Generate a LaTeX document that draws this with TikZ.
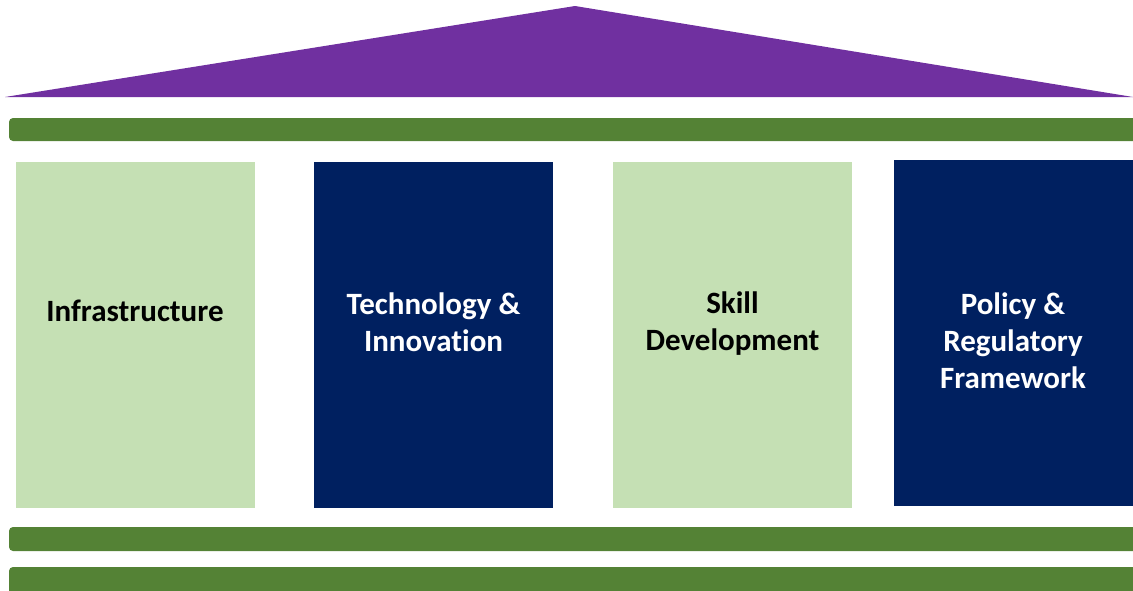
\documentclass[tikz,border=0pt]{standalone}
\usepackage{fontspec}
\setmainfont[Ligatures=CommonOff]{Carlito}
\usetikzlibrary{calc}

\definecolor{roofpurple}{HTML}{7030A0}
\definecolor{bargreen}{HTML}{548235}
\definecolor{palegreen}{HTML}{C5E0B4}
\definecolor{deepnavy}{HTML}{002060}

\begin{document}
\begin{tikzpicture}[x=1pt,y=-1pt,
	pillar/.style={rectangle, draw=none, inner sep=0pt, minimum width=239pt, minimum height=346pt},
	pillartext/.style={align=center, font=\fontsize{31}{37}\selectfont\bfseries},
	bar/.style={fill=bargreen, rounded corners=4pt}]

	% parameters
	\def\width{1133}
	\def\height{590}

	\useasboundingbox (0,0) rectangle (\width,\height);
	\clip (0,0) rectangle (\width,\height);

	% coordinates

	\coordinate (A) at (5,97);
	\coordinate (B) at (\width,97);
	\coordinate (C) at (575,6);

	% roof
	\fill[roofpurple] (A) -- (C) -- (B) -- cycle;

	% bars
	\fill[bar] (9,118) rectangle (1145,141);
	\fill[bar] (9,527) rectangle (1145,551);
	\fill[bar] (9,567) rectangle (1145,595);

	% pillars

	\node[pillar, fill=palegreen] (P1) at (135,335) {};
	\node[pillar, fill=deepnavy] (P2) at (433.5,335) {};
	\node[pillar, fill=palegreen] (P3) at (732.5,335) {};
	\node[pillar, fill=deepnavy] (P4) at (1013,333) {};

	% pillar labels

	\node[pillartext, text=black] (L1) at ($(P1.center)+(0,-24)$) {Infrastructure};
	\node[pillartext, text=white] (L2) at ($(P2.center)+(0,-13)$) {Technology \&\\Innovation};
	\node[pillartext, text=black] (L3) at ($(P3.center)+(0,-11)$) {Skill\\Development};
	\node[pillartext, text=white] (L4) at ($(P4.center)+(0,8)$) {Policy \&\\Regulatory\\Framework};

\end{tikzpicture}
\end{document}
